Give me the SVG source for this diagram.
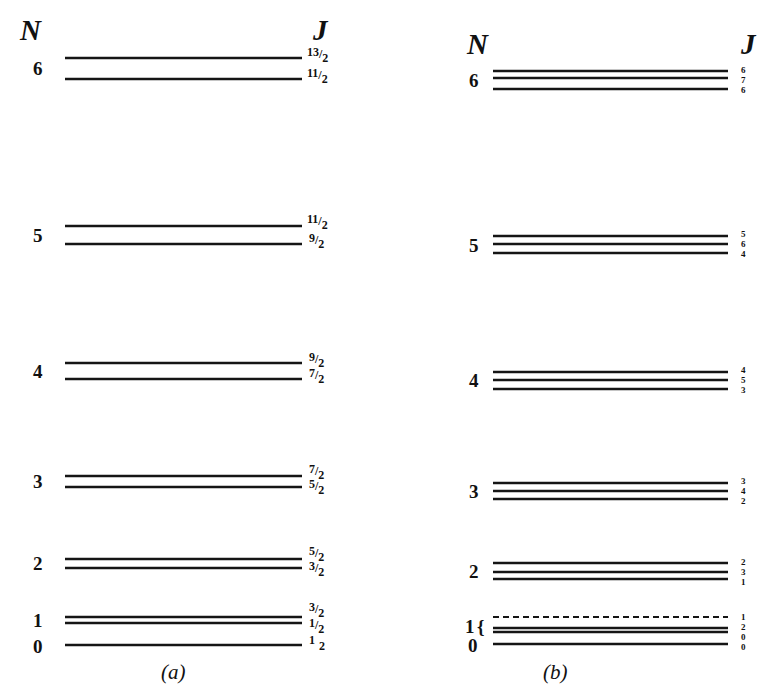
<svg xmlns="http://www.w3.org/2000/svg" width="758" height="684" viewBox="0 0 758 684">
<style>
.bg{fill:#fff}
.lv{stroke:#151515;stroke-width:2.6;fill:none}
.dl{stroke:#151515;stroke-width:2;fill:none;stroke-dasharray:6 4}
.hd{font-family:"Liberation Serif",serif;font-style:italic;font-weight:bold;font-size:29px;fill:#111}
.n{font-family:"Liberation Serif",serif;font-weight:bold;font-size:19px;fill:#111}
.j{font-family:"Liberation Serif",serif;font-weight:bold;font-size:12px;fill:#111}
.jb{font-family:"Liberation Serif",serif;font-weight:bold;font-size:9px;fill:#111}
.cap{font-family:"Liberation Serif",serif;font-style:italic;font-size:21px;fill:#111}
</style>
<rect class="bg" width="758" height="684"/>
<g id="panel-a">
<text class="hd" x="20" y="40">N</text>
<text class="hd" x="313" y="40">J</text>
<g id="a-N6"><text class="n" x="33" y="75">6</text>
<line class="lv" x1="65" y1="58" x2="302" y2="58"/><line class="lv" x1="65" y1="79" x2="302" y2="79"/>
<text class="j" x="307" y="60"><tspan dy="-4">13</tspan><tspan dy="2">/</tspan><tspan dy="4">2</tspan></text>
<text class="j" x="307" y="80"><tspan dy="-3">11</tspan><tspan dy="2">/</tspan><tspan dy="4">2</tspan></text></g>
<g id="a-N5"><text class="n" x="33" y="242">5</text>
<line class="lv" x1="65" y1="226" x2="302" y2="226"/><line class="lv" x1="65" y1="244" x2="302" y2="244"/>
<text class="j" x="307" y="226"><tspan dy="-3">11</tspan><tspan dy="2">/</tspan><tspan dy="4">2</tspan></text>
<text class="j" x="309" y="245"><tspan dy="-3">9</tspan><tspan dy="2">/</tspan><tspan dy="4">2</tspan></text></g>
<g id="a-N4"><text class="n" x="33" y="378">4</text>
<line class="lv" x1="65" y1="363" x2="302" y2="363"/><line class="lv" x1="65" y1="379" x2="302" y2="379"/>
<text class="j" x="309" y="364"><tspan dy="-3">9</tspan><tspan dy="2">/</tspan><tspan dy="4">2</tspan></text>
<text class="j" x="309" y="380"><tspan dy="-3">7</tspan><tspan dy="2">/</tspan><tspan dy="4">2</tspan></text></g>
<g id="a-N3"><text class="n" x="33" y="488">3</text>
<line class="lv" x1="65" y1="476" x2="302" y2="476"/><line class="lv" x1="65" y1="487" x2="302" y2="487"/>
<text class="j" x="309" y="476"><tspan dy="-3">7</tspan><tspan dy="2">/</tspan><tspan dy="4">2</tspan></text>
<text class="j" x="309" y="491"><tspan dy="-3">5</tspan><tspan dy="2">/</tspan><tspan dy="4">2</tspan></text></g>
<g id="a-N2"><text class="n" x="33" y="570">2</text>
<line class="lv" x1="65" y1="559" x2="302" y2="559"/><line class="lv" x1="65" y1="568" x2="302" y2="568"/>
<text class="j" x="309" y="558"><tspan dy="-3">5</tspan><tspan dy="2">/</tspan><tspan dy="4">2</tspan></text>
<text class="j" x="309" y="573"><tspan dy="-3">3</tspan><tspan dy="2">/</tspan><tspan dy="4">2</tspan></text></g>
<g id="a-N1"><text class="n" x="33" y="627">1</text>
<line class="lv" x1="65" y1="617" x2="302" y2="617"/><line class="lv" x1="65" y1="623" x2="302" y2="623"/>
<text class="j" x="309" y="614"><tspan dy="-3">3</tspan><tspan dy="2">/</tspan><tspan dy="4">2</tspan></text>
<text class="j" x="309" y="630"><tspan dy="-3">1</tspan><tspan dy="2">/</tspan><tspan dy="4">2</tspan></text></g>
<g id="a-N0"><text class="n" x="33" y="653">0</text>
<line class="lv" x1="65" y1="645" x2="302" y2="645"/>
<text class="j" x="309" y="647"><tspan dy="-3">1</tspan><tspan dx="4" dy="6">2</tspan></text></g>
<text class="cap" x="161" y="679">(a)</text>
</g>
<g id="panel-b">
<text class="hd" x="467" y="54">N</text>
<text class="hd" x="741" y="54">J</text>
<g id="b-N6"><text class="n" x="469" y="87">6</text>
<line class="lv" x1="493" y1="71" x2="728" y2="71"/><line class="lv" x1="493" y1="78" x2="728" y2="78"/><line class="lv" x1="493" y1="89" x2="728" y2="89"/>
<text class="jb" x="741" y="73">6</text><text class="jb" x="741" y="83">7</text><text class="jb" x="741" y="93">6</text></g>
<g id="b-N5"><text class="n" x="469" y="252">5</text>
<line class="lv" x1="493" y1="236" x2="728" y2="236"/><line class="lv" x1="493" y1="244" x2="728" y2="244"/><line class="lv" x1="493" y1="253" x2="728" y2="253"/>
<text class="jb" x="741" y="237">5</text><text class="jb" x="741" y="247">6</text><text class="jb" x="741" y="257">4</text></g>
<g id="b-N4"><text class="n" x="469" y="387">4</text>
<line class="lv" x1="493" y1="372" x2="728" y2="372"/><line class="lv" x1="493" y1="380" x2="728" y2="380"/><line class="lv" x1="493" y1="389" x2="728" y2="389"/>
<text class="jb" x="741" y="373">4</text><text class="jb" x="741" y="383">5</text><text class="jb" x="741" y="393">3</text></g>
<g id="b-N3"><text class="n" x="469" y="498">3</text>
<line class="lv" x1="493" y1="483" x2="728" y2="483"/><line class="lv" x1="493" y1="491" x2="728" y2="491"/><line class="lv" x1="493" y1="499" x2="728" y2="499"/>
<text class="jb" x="741" y="484">3</text><text class="jb" x="741" y="494">4</text><text class="jb" x="741" y="504">2</text></g>
<g id="b-N2"><text class="n" x="469" y="578">2</text>
<line class="lv" x1="493" y1="563" x2="728" y2="563"/><line class="lv" x1="493" y1="572" x2="728" y2="572"/><line class="lv" x1="493" y1="579" x2="728" y2="579"/>
<text class="jb" x="741" y="565">2</text><text class="jb" x="741" y="575">3</text><text class="jb" x="741" y="585">1</text></g>
<g id="b-N1"><text class="n" x="465" y="633">1</text>
<text class="n" x="477" y="633" font-weight="normal" font-size="21">{</text>
<line class="dl" x1="493" y1="617" x2="728" y2="617"/><line class="lv" x1="493" y1="628" x2="728" y2="628"/><line class="lv" x1="493" y1="632" x2="728" y2="632"/>
<text class="jb" x="741" y="620">1</text><text class="jb" x="741" y="630">2</text><text class="jb" x="741" y="640">0</text></g>
<g id="b-N0"><text class="n" x="468" y="652">0</text>
<line class="lv" x1="493" y1="644" x2="728" y2="644"/>
<text class="jb" x="741" y="650">0</text></g>
<text class="cap" x="543" y="679">(b)</text>
</g>
</svg>
